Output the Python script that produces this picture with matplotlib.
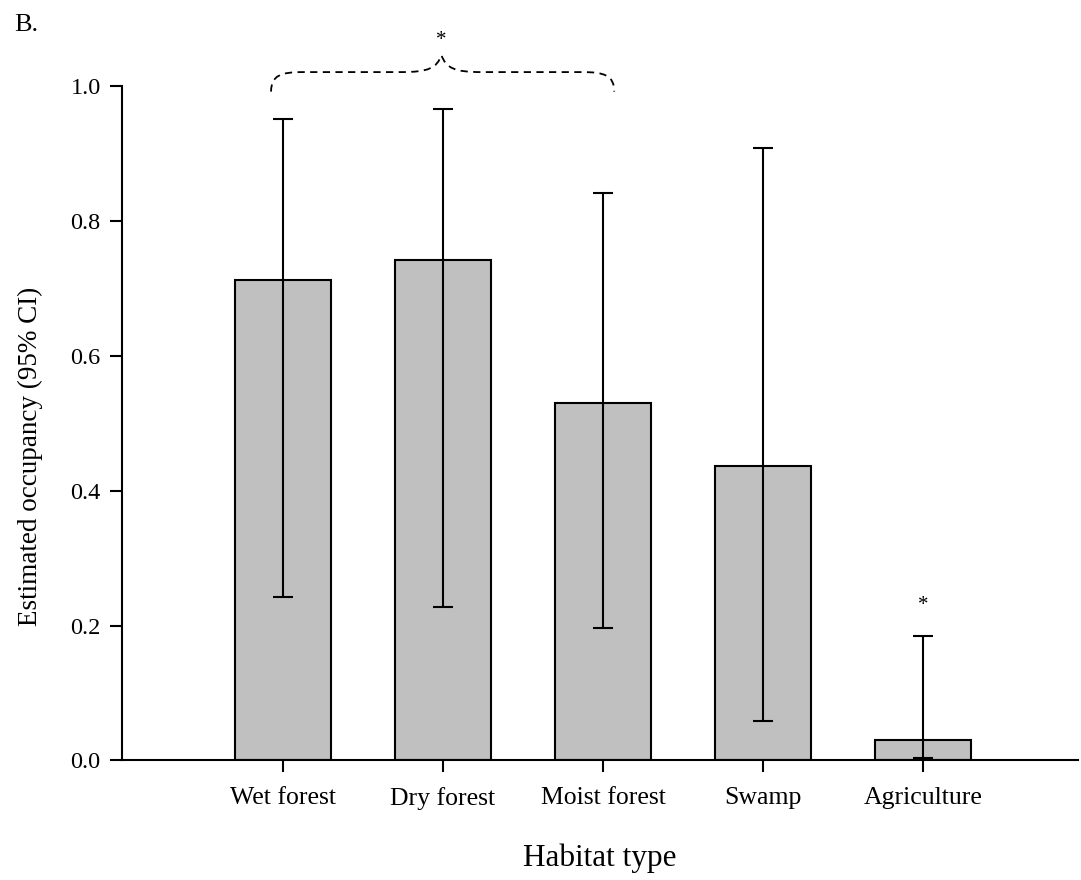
import numpy as np
import matplotlib.pyplot as plt
from matplotlib.path import Path
from matplotlib.patches import PathPatch

plt.rcParams['font.family'] = ['Liberation Serif', 'DejaVu Serif']

habitats = ['Wet forest', 'Dry forest', 'Moist forest', 'Swamp', 'Agriculture']
occupancy = [0.712, 0.742, 0.530, 0.436, 0.030]
ci_low = [0.242, 0.227, 0.196, 0.058, 0.003]
ci_high = [0.951, 0.966, 0.842, 0.908, 0.185]
y_ticks = [0.0, 0.2, 0.4, 0.6, 0.8, 1.0]

x = np.arange(1, len(habitats) + 1)
occ = np.array(occupancy)
yerr = [occ - np.array(ci_low), np.array(ci_high) - occ]

fig = plt.figure(figsize=(10.81, 8.8), dpi=100)
ax = fig.add_axes([0.113, 0.136, 0.8843, 0.766])

ax.bar(x, occ, width=0.6, color='#c0c0c0', edgecolor='black', linewidth=1.5, zorder=2)
ax.errorbar(x, occ, yerr=yerr, fmt='none', ecolor='black', elinewidth=1.5,
            capsize=7.5, capthick=1.5, zorder=3)

ax.set_xlim(-0.006, 5.97)
ax.set_ylim(0, 1.0)
ax.set_xticks(x)
ax.set_xticklabels(habitats, fontsize=18.5)
ax.set_yticks(y_ticks)
ax.set_yticklabels(['%.1f' % v for v in y_ticks], fontsize=17.5)
ax.tick_params(axis='both', direction='out', length=8.5, width=1.5)
ax.tick_params(axis='y', pad=7)
ax.tick_params(axis='x', pad=11)

for side in ['top', 'right']:
    ax.spines[side].set_visible(False)
for side in ['left', 'bottom']:
    ax.spines[side].set_linewidth(1.5)

ax.set_xlabel('Habitat type', fontsize=22.5, labelpad=24)
ax.set_ylabel('Estimated occupancy (95% CI)', fontsize=19.5)
ax.yaxis.set_label_coords(-0.083, 0.451)

# dashed brace grouping the three forest types
x0, x1, xm = 0.925, 3.07, 1.99
yb, yt, yp = 0.992, 1.021, 1.046
verts = [(x0, yb), (x0, yt - 0.005), (x0 + 0.06, yt), (x0 + 0.2, yt),
         (xm - 0.25, yt), (xm - 0.08, yt), (xm - 0.03, yt + 0.006), (xm, yp),
         (xm + 0.03, yt + 0.006), (xm + 0.08, yt), (xm + 0.25, yt),
         (x1 - 0.2, yt), (x1 - 0.06, yt), (x1, yt - 0.005), (x1, yb)]
codes = [Path.MOVETO, Path.CURVE4, Path.CURVE4, Path.CURVE4,
         Path.LINETO, Path.CURVE4, Path.CURVE4, Path.CURVE4,
         Path.CURVE4, Path.CURVE4, Path.CURVE4,
         Path.LINETO, Path.CURVE4, Path.CURVE4, Path.CURVE4]
brace = PathPatch(Path(verts, codes), facecolor='none', edgecolor='black',
                  linewidth=1.3, linestyle=(0, (4, 3)), clip_on=False)
ax.add_patch(brace)
ax.text(xm, 1.068, '*', ha='center', va='center', fontsize=15, clip_on=False)
ax.text(5, 0.23, '*', ha='center', va='center', fontsize=15)

fig.text(0.013, 0.972, 'B.', fontsize=19, ha='left', va='center')

fig.savefig('out.png', dpi=100)
